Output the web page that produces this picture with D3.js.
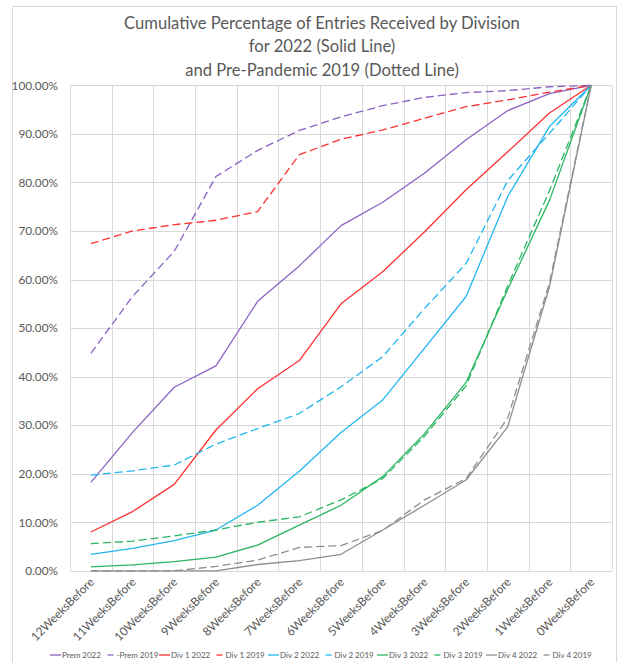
<!DOCTYPE html>
<html><head><meta charset="utf-8">
<script src="https://cdn.jsdelivr.net/npm/d3@7"></script>
<style>body{margin:0;background:#fff;} svg{display:block;font-family:Lato,"Open Sans",sans-serif;}</style>
</head><body>
<svg id="c" width="622" height="662"></svg>
<script>
const categories = ["12WeeksBefore","11WeeksBefore","10WeeksBefore","9WeeksBefore","8WeeksBefore","7WeeksBefore","6WeeksBefore","5WeeksBefore","4WeeksBefore","3WeeksBefore","2WeeksBefore","1WeeksBefore","0WeeksBefore"];
const prem2022 = [18.2,28.5,37.8,42.2,55.5,62.8,71.1,75.9,81.9,88.8,94.8,98.3,100];
const prem2019 = [44.8,56.5,65.8,81.2,86.6,90.7,93.5,95.8,97.5,98.5,98.9,99.7,100];
const div1_2022 = [8.0,12.2,17.8,29.0,37.5,43.3,55.0,61.6,69.8,78.5,86.3,94.3,100];
const div1_2019 = [67.4,70.0,71.3,72.2,74.0,85.7,88.9,90.8,93.2,95.6,97.0,98.6,100];
const div2_2022 = [3.4,4.6,6.2,8.4,13.5,20.5,28.5,35.2,45.8,56.5,77.1,91.5,100];
const div2_2019 = [19.7,20.6,21.8,26.1,29.3,32.4,37.9,44.1,54.0,63.3,80.4,90.1,100];
const div3_2022 = [0.8,1.2,1.9,2.8,5.3,9.4,13.5,19.4,28.2,38.8,58.0,76.3,100];
const div3_2019 = [5.6,6.1,7.2,8.4,10.0,11.1,14.6,19.0,27.7,38.1,58.7,78.3,100];
const div4_2022 = [0,0,0,0,1.3,2.1,3.4,8.4,13.5,18.7,29.7,58.5,100];
const div4_2019 = [0,0,0,0.9,2.2,4.8,5.2,8.3,14.6,19.0,31.5,59.3,100];
const seriesNames = ["Prem 2022","-Prem 2019","Div 1 2022","Div 1 2019","Div 2 2022","Div 2 2019","Div 3 2022","Div 3 2019","Div 4 2022","Div 4 2019"];
const yTicks = [0,10,20,30,40,50,60,70,80,90,100];
const titleLines = ["Cumulative Percentage of Entries Received by Division","for 2022 (Solid Line)","and Pre-Pandemic 2019 (Dotted Line)"];

const purple="#8c62c4", red="#ff3030", blue="#22b6f0", green="#2bb562", grey="#8e8e8e";
const series = [
  {name:seriesNames[0], values:prem2022, color:purple, dash:null},
  {name:seriesNames[1], values:prem2019, color:purple, dash:"8,4"},
  {name:seriesNames[2], values:div1_2022, color:red, dash:null},
  {name:seriesNames[3], values:div1_2019, color:red, dash:"8,4"},
  {name:seriesNames[4], values:div2_2022, color:blue, dash:null},
  {name:seriesNames[5], values:div2_2019, color:blue, dash:"8,4"},
  {name:seriesNames[6], values:div3_2022, color:green, dash:null},
  {name:seriesNames[7], values:div3_2019, color:green, dash:"8,4"},
  {name:seriesNames[8], values:div4_2022, color:grey, dash:null},
  {name:seriesNames[9], values:div4_2019, color:grey, dash:"8,4"}
];

const svg = d3.select("#c");
// chart border
svg.append("rect").attr("x",12.5).attr("y",6.5).attr("width",604).attr("height",670)
  .attr("fill","#fff").attr("stroke","#d9d9d9").attr("stroke-width",1);

const L=70, R=612, T=85.3, B=570.8;
const x = d3.scaleBand().domain(categories).range([L,R]);
const y = d3.scaleLinear().domain([0,100]).range([B,T]);

// title
svg.append("text").attr("x",322).attr("y",0).attr("text-anchor","middle")
  .attr("fill","#595959").style("font-size","16.6px")
  .selectAll("tspan").data(titleLines).join("tspan")
  .attr("x",322).attr("y",(d,i)=>29+i*23.3).text(d=>d);

// gridlines
const g = svg.append("g");
g.selectAll("line.h").data(yTicks).join("line").attr("class","h")
  .attr("x1",L).attr("x2",R).attr("y1",d=>Math.round(y(d))+0.5).attr("y2",d=>Math.round(y(d))+0.5)
  .attr("stroke","#d9d9d9").attr("stroke-width",1);
const bounds = categories.map(c=>x(c)).concat([R]);
g.selectAll("line.v").data(bounds).join("line").attr("class","v")
  .attr("x1",d=>Math.round(d)+0.5).attr("x2",d=>Math.round(d)+0.5).attr("y1",T).attr("y2",B)
  .attr("stroke","#d9d9d9").attr("stroke-width",1);

// y axis labels
const yAxis = d3.axisLeft(y).tickValues(yTicks).tickFormat(d=>d3.format(".2f")(d)+"%").tickSize(0).tickPadding(12);
const ya = svg.append("g").attr("transform",`translate(${L},0)`).call(yAxis);
ya.select(".domain").remove();
ya.selectAll("text").attr("fill","#595959").style("font-size","11.8px").style("font-family","Lato,sans-serif");

// x axis labels
const xAxis = d3.axisBottom(x).tickSize(0).tickPadding(0);
const xa = svg.append("g").attr("transform",`translate(0,${B})`).call(xAxis);
xa.select(".domain").remove();
xa.selectAll("text").attr("fill","#595959").style("font-size","11.8px").style("font-family","Lato,sans-serif")
  .attr("text-anchor","end").attr("dy",null).attr("y",0)
  .attr("transform","translate(4,12) rotate(-45)");

// lines
const line = d3.line().x((d,i)=>x(categories[i])+x.bandwidth()/2).y(d=>y(d));
svg.append("g").selectAll("path").data(series).join("path")
  .attr("d",d=>line(d.values)).attr("fill","none").attr("stroke",d=>d.color)
  .attr("stroke-width",1.3).attr("stroke-dasharray",d=>d.dash).attr("stroke-linejoin","round");

// legend
const leg = svg.append("g");
const items = leg.selectAll("g").data(series).join("g")
  .attr("transform",(d,i)=>`translate(${50+i*54.5},655)`);
items.append("line").attr("x1",d=>d.dash?3:0).attr("x2",d=>d.dash?9:11).attr("y1",0).attr("y2",0)
  .attr("stroke",d=>d.color).attr("stroke-width",1.3);
items.append("text").attr("x",12).attr("y",3).attr("fill","#595959")
  .style("font-size","8px").text(d=>d.name);
</script>
</body></html>
